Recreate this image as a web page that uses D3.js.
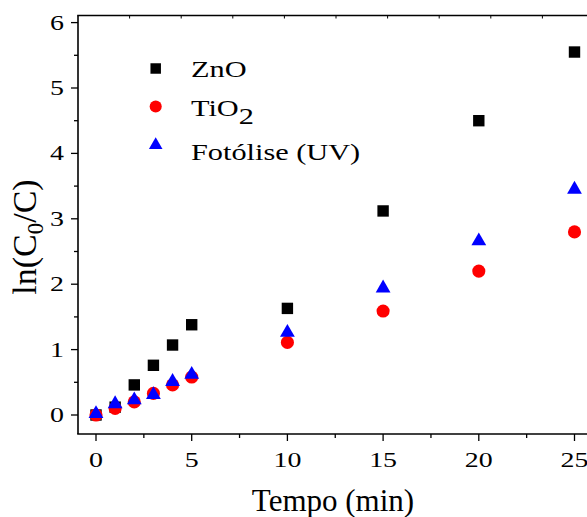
<!DOCTYPE html>
<html><head><meta charset="utf-8">
<script src="https://cdn.jsdelivr.net/npm/d3@7"></script>
<style>body{margin:0;background:#fff}svg{display:block}text{font-family:"Liberation Serif","Times New Roman",serif;fill:#000}</style>
</head><body><div id="chart"></div>
<script>
const times = [0,1,2,3,4,5,10,15,20,25];
const znoValues = [0,0.12,0.46,0.76,1.07,1.38,1.63,3.12,4.50,5.55];
const tio2Values = [0,0.10,0.20,0.33,0.46,0.58,1.11,1.59,2.20,2.80];
const uvValues = [0.02,0.17,0.23,0.31,0.51,0.62,1.26,1.94,2.66,3.45];
const seriesNames = ["ZnO","TiO","Fotólise (UV)"];
const xTicks = [0,5,10,15,20,25];
const xMinor = [2.5,7.5,12.5,17.5,22.5];
const yTicks = [0,1,2,3,4,5,6];
const yMinor = [0.5,1.5,2.5,3.5,4.5,5.5];
const topTicks = [1,2,3,4,5,6,7,8,9];

const W=587,H=517;
const svg=d3.select("#chart").append("svg").attr("width",W).attr("height",H);
const x=d3.scaleLinear().domain([0,25]).range([96,574.5]);
const y=d3.scaleLinear().domain([0,6]).range([415,22.6]);
const xL=x.invert(78), xR=x.invert(610);
const yB=y.invert(434), yT=y.invert(15.5);
const topScale=d3.scaleLinear().domain([0,10]).range([x(xL),x(xL)+516]);

const g=svg.append("g");
const lw=1.6;
g.append("line").attr("x1",x(xL)).attr("x2",x(xL)).attr("y1",y(yT)).attr("y2",y(yB)).attr("stroke","#000").attr("stroke-width",lw);
g.append("line").attr("x1",x(xL)-lw/2).attr("x2",x(xR)).attr("y1",y(yB)).attr("y2",y(yB)).attr("stroke","#000").attr("stroke-width",lw);
g.append("line").attr("x1",x(xL)-lw/2).attr("x2",x(xR)).attr("y1",y(yT)).attr("y2",y(yT)).attr("stroke","#000").attr("stroke-width",lw);
g.selectAll(".ymaj").data(yTicks).join("line").attr("x1",x(xL)).attr("x2",x(xL)-7).attr("y1",d=>y(d)).attr("y2",d=>y(d)).attr("stroke","#000").attr("stroke-width",1.3);
g.selectAll(".ymin").data(yMinor).join("line").attr("x1",x(xL)).attr("x2",x(xL)-4).attr("y1",d=>y(d)).attr("y2",d=>y(d)).attr("stroke","#000").attr("stroke-width",1.3);
g.selectAll(".ylab").data(yTicks).join("text").attr("transform",d=>`translate(64,${y(d)+7}) scale(1.33,1)`).attr("text-anchor","end").attr("font-size",21).text(d=>d);
g.selectAll(".xmaj").data(xTicks).join("line").attr("x1",d=>x(d)).attr("x2",d=>x(d)).attr("y1",y(yB)).attr("y2",y(yB)+7).attr("stroke","#000").attr("stroke-width",1.3);
g.selectAll(".xmin").data(xMinor).join("line").attr("x1",d=>x(d)).attr("x2",d=>x(d)).attr("y1",y(yB)).attr("y2",y(yB)+4).attr("stroke","#000").attr("stroke-width",1.3);
g.selectAll(".xlab").data(xTicks).join("text").attr("transform",d=>`translate(${x(d)},467) scale(1.33,1)`).attr("text-anchor","middle").attr("font-size",21).text(d=>d);
g.selectAll(".tt").data(topTicks).join("line").attr("x1",d=>topScale(d)).attr("x2",d=>topScale(d)).attr("y1",y(yT)).attr("y2",y(yT)+3).attr("stroke","#000").attr("stroke-width",1);
svg.append("text").attr("x",333).attr("y",511).attr("text-anchor","middle").attr("font-size",31).text("Tempo (min)");
const yl=svg.append("text").attr("transform","translate(36,237) rotate(-90)").attr("text-anchor","middle").attr("font-size",34);
yl.append("tspan").text("ln(C");
yl.append("tspan").attr("font-size",23).attr("dy",7).text("0");
yl.append("tspan").attr("dy",-7).text("/C)");

const sym=(type,size)=>d3.symbol().type(type).size(size)();
const pts=(vals,cls,path,color)=>g.selectAll("."+cls).data(times.map((t,i)=>[t,vals[i]])).join("path").attr("class",cls).attr("d",path).attr("fill",color).attr("transform",d=>`translate(${x(d[0])},${y(d[1])})`);
pts(znoValues,"zno",sym(d3.symbolSquare,130),"#000");
pts(tio2Values,"tio",sym(d3.symbolCircle,135),"#ff0000");
pts(uvValues,"uv",sym(d3.symbolTriangle,95),"#0000ff");

const leg=svg.append("g");
const lx=155.7;
leg.append("path").attr("d",sym(d3.symbolSquare,110)).attr("transform",`translate(${lx},68.5)`).attr("fill","#000");
leg.append("path").attr("d",sym(d3.symbolCircle,115)).attr("transform",`translate(${lx},106.5)`).attr("fill","#ff0000");
leg.append("path").attr("d",sym(d3.symbolTriangle,80)).attr("transform",`translate(${lx},145)`).attr("fill","#0000ff");
leg.append("text").attr("transform","translate(191,77.3) scale(1.29,1)").attr("font-size",23.5).text(seriesNames[0]);
const t2=leg.append("text").attr("transform","translate(191,115.7) scale(1.29,1)").attr("font-size",23.5);
t2.append("tspan").text(seriesNames[1]);
t2.append("tspan").attr("dy",8).text("2");
leg.append("text").attr("transform","translate(191,160) scale(1.29,1)").attr("font-size",23.5).text(seriesNames[2]);
</script></body></html>
